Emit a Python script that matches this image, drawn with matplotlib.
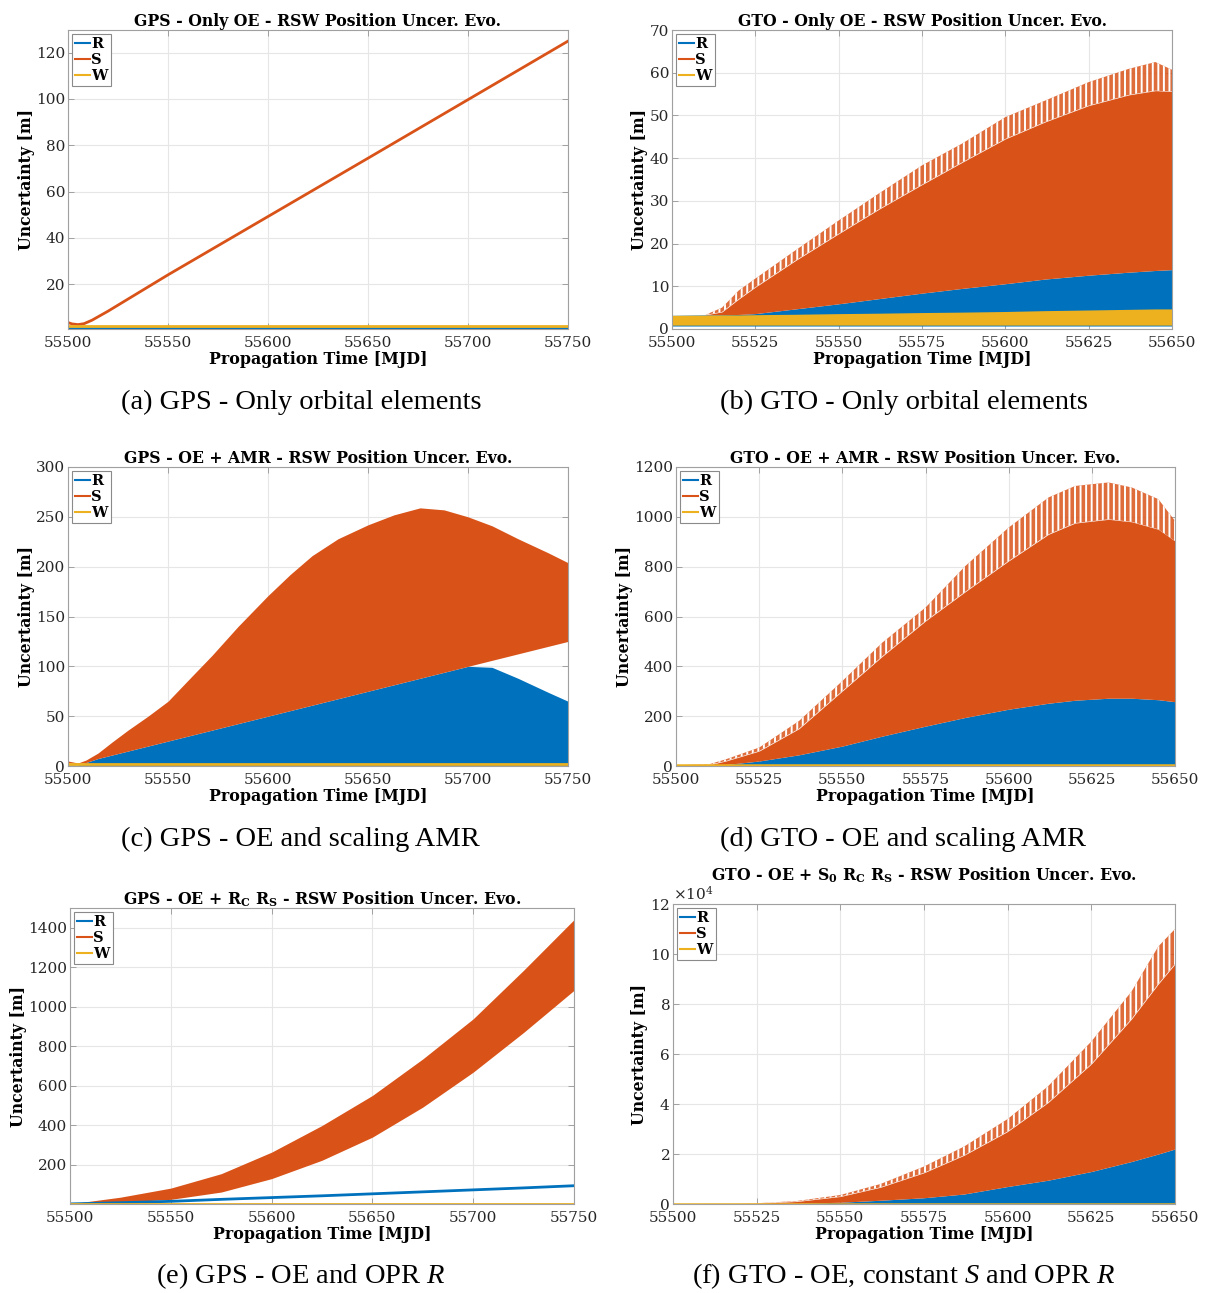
import matplotlib
matplotlib.use("Agg")
from matplotlib import pyplot as plt
from matplotlib.lines import Line2D
from matplotlib.ticker import ScalarFormatter

plt.rcParams['font.family'] = ['DejaVu Serif']
plt.rcParams['mathtext.fontset'] = 'custom'
plt.rcParams['mathtext.it'] = 'Liberation Serif:italic'
plt.rcParams['mathtext.default'] = 'regular'
plt.rcParams['hatch.linewidth'] = 1.4

R_C = '#0072BD'
S_C = '#D95319'
W_C = '#EDB120'

# (a) GPS - only OE
a_days = [55500, 55502, 55505, 55508, 55512, 55520, 55550, 55600, 55650, 55700, 55750]
a_s = [3.4, 2.8, 2.5, 2.9, 4.4, 8.3, 24.0, 49.2, 74.4, 99.7, 125.0]
a_r = [1.0] * len(a_days)
a_w = [2.1] * len(a_days)

# (b) GTO - only OE
b_days = [55500, 55510, 55515, 55520, 55525, 55537, 55550, 55562, 55575, 55587, 55600, 55612, 55625, 55637, 55645, 55650]
b_s_peak = [3.2, 3.3, 5.0, 9.0, 11.8, 18.4, 25.4, 31.7, 38.3, 43.4, 49.6, 53.5, 57.8, 60.9, 62.5, 60.7]
b_s_base = [3.2, 3.3, 4.0, 7.0, 9.8, 16.0, 22.3, 28.0, 33.8, 39.0, 44.5, 48.5, 52.3, 54.8, 55.8, 55.6]
b_r_top = [3.2, 3.3, 3.35, 3.4, 3.6, 4.7, 5.9, 7.1, 8.4, 9.5, 10.6, 11.7, 12.6, 13.3, 13.7, 13.9]
b_r_bot = [0.7] * len(b_days)
b_w_top = [3.2, 3.25, 3.3, 3.3, 3.35, 3.45, 3.6, 3.7, 3.85, 3.95, 4.1, 4.3, 4.45, 4.6, 4.7, 4.7]
b_w_bot = [0.9] * len(b_days)

# (c) GPS - OE + AMR
c_days = [55500, 55505, 55509, 55515, 55522, 55530, 55540, 55550, 55560, 55572, 55585, 55600,
          55611, 55622, 55635, 55650, 55663, 55676, 55688, 55700, 55712, 55725, 55740, 55750]
c_s_top = [5, 3, 6, 13, 24, 36, 50, 65, 86, 111, 140, 171, 192, 211, 228, 242, 252, 259, 257,
           250, 241, 228, 214, 204]
c_s_bot = [3.5, 2, 3.5, 7.5, 11, 15, 20, 25, 30, 36, 42.5, 50, 55.5, 61, 67.5, 75, 81.5, 88,
           94, 100, 106, 112.5, 120, 125]
c_r_top = [1, 1, 3.5, 7.5, 11, 15, 20, 25, 30, 36, 42.5, 50, 55.5, 61, 67.5, 75, 81.5, 88,
           94, 100, 99, 88, 74, 65]
c_w = [2.5] * len(c_days)

# (d) GTO - OE + AMR
d_days = [55500, 55510, 55515, 55525, 55537, 55550, 55562, 55575, 55587, 55600, 55612, 55620, 55630, 55637, 55645, 55650]
d_s_peak = [3, 7, 27, 74, 181, 341, 495, 636, 803, 957, 1078, 1124, 1138, 1118, 1071, 984]
d_s_base = [3, 5, 20, 60, 150, 301, 440, 582, 700, 823, 930, 975, 990, 980, 950, 903]
d_r_top = [2, 3, 6, 20, 45, 80, 120, 160, 195, 228, 252, 264, 272, 272, 266, 258]
d_w = [5] * len(d_days)

# (e) GPS - OE + OPR R
e_days = [55500, 55525, 55550, 55575, 55600, 55625, 55650, 55675, 55700, 55725, 55750]
e_s_top = [2, 36, 82, 155, 264, 399, 551, 736, 939, 1185, 1441]
e_s_bot = [2, 11, 25, 62, 130, 223, 340, 492, 669, 870, 1083]
e_r = [2, 8, 15, 25, 34, 43, 53, 63, 73, 83, 94]
e_w = [2] * len(e_days)

# (f) GTO - OE, constant S + OPR R  [m]
f_days = [55500, 55525, 55537, 55550, 55562, 55575, 55587, 55600, 55612, 55625, 55637, 55645, 55650]
f_s_peak = [30, 300, 1200, 3600, 8000, 15000, 23000, 34000, 47000, 65000, 85000, 103000, 110000]
f_s_base = [30, 250, 1000, 3000, 6700, 12500, 19500, 29000, 40500, 56000, 74000, 88000, 96000]
f_r_top = [20, 100, 300, 700, 1500, 2500, 4000, 7000, 9500, 13000, 17000, 20000, 22000]
f_w = [150] * len(f_days)

titles = [
    'GPS - Only OE - RSW Position Uncer. Evo.',
    'GTO - Only OE - RSW Position Uncer. Evo.',
    'GPS - OE + AMR - RSW Position Uncer. Evo.',
    'GTO - OE + AMR - RSW Position Uncer. Evo.',
    'GPS - OE + R$_C$ R$_S$ - RSW Position Uncer. Evo.',
    'GTO - OE + S$_0$ R$_C$ R$_S$ - RSW Position Uncer. Evo.',
]
captions = [
    '(a) GPS - Only orbital elements',
    '(b) GTO - Only orbital elements',
    '(c) GPS - OE and scaling AMR',
    '(d) GTO - OE and scaling AMR',
    '(e) GPS - OE and OPR $\\mathit{R}$',
    '(f) GTO - OE, constant $\\mathit{S}$ and OPR $\\mathit{R}$',
]

W, H = 1209, 1293
fig = plt.figure(figsize=(W / 100, H / 100), dpi=100)


def rect(x0, y0, x1, y1):
    return [x0 / W, 1 - y1 / H, (x1 - x0) / W, (y1 - y0) / H]


boxes = [(68, 30, 568, 329), (672, 30, 1172, 329),
         (68, 467, 568, 766), (676, 467, 1175, 766),
         (70, 908, 574, 1204), (673, 904, 1175, 1204)]
cap_pos = [(301, 402), (904, 402), (300, 839), (903, 839), (301, 1276), (904, 1276)]

axes = [fig.add_axes(rect(*b)) for b in boxes]


def style(ax, title, xticks, yticks, xlim, ylim):
    ax.set_xlim(xlim)
    ax.set_ylim(ylim)
    ax.set_xticks(xticks)
    ax.set_yticks(yticks)
    ax.grid(True, color='#e6e6e6', lw=0.8)
    ax.set_axisbelow(True)
    for sp in ax.spines.values():
        sp.set_color('#a0a0a0')
        sp.set_linewidth(0.8)
    ax.tick_params(direction='in', length=4, width=0.7, color='#a0a0a0',
                   labelsize=11, labelcolor='#262626', top=True, right=True, pad=2)
    ax.tick_params(axis='x', pad=5)
    ax.set_title(title, fontsize=11.3, fontweight='bold', pad=3)
    ax.set_xlabel('Propagation Time [MJD]', fontsize=11.4, fontweight='bold', labelpad=0.5)
    ax.set_ylabel('Uncertainty [m]', fontsize=11.3, fontweight='bold', labelpad=1)
    handles = [Line2D([], [], color=c, lw=1.5) for c in (R_C, S_C, W_C)]
    leg = ax.legend(handles, ['R', 'S', 'W'], loc='upper left', fancybox=False,
                    edgecolor='#8a8a8a', framealpha=1, handlelength=1.0,
                    handletextpad=0.1, borderpad=0.2, labelspacing=0.12,
                    borderaxespad=0.3, prop={'weight': 'bold', 'size': 10.5})
    leg.get_frame().set_linewidth(0.8)


def teeth(ax, days, base, peak):
    # spiky upper edge of the S oscillation
    ax.fill_between(days, base, peak, facecolor=S_C, alpha=0.85, lw=0)
    ax.fill_between(days, base, peak, facecolor='none', edgecolor='white',
                    hatch='|||', lw=0)


gps_x = [55500, 55550, 55600, 55650, 55700, 55750]
gto_x = [55500, 55525, 55550, 55575, 55600, 55625, 55650]

# (a)
ax = axes[0]
ax.plot(a_days, a_r, color=R_C, lw=2)
ax.plot(a_days, a_s, color=S_C, lw=2)
ax.plot(a_days, a_w, color=W_C, lw=2)
style(ax, titles[0], gps_x, [20, 40, 60, 80, 100, 120], (55500, 55750), (0.6, 129.8))

# (b)
ax = axes[1]
ax.fill_between(b_days, b_r_bot, b_r_top, color=R_C, lw=0)
ax.fill_between(b_days, b_r_top, b_s_base, color=S_C, lw=0)
teeth(ax, b_days, b_s_base, b_s_peak)
ax.fill_between(b_days, b_w_bot, b_w_top, color=W_C, lw=0)
style(ax, titles[1], gto_x, list(range(0, 80, 10)), (55500, 55650), (0, 70))

# (c)
ax = axes[2]
ax.fill_between(c_days, 0, c_r_top, color=R_C, lw=0)
ax.fill_between(c_days, c_s_bot, c_s_top, color=S_C, lw=0)
ax.plot(c_days, c_w, color=W_C, lw=2)
style(ax, titles[2], gps_x, list(range(0, 350, 50)), (55500, 55750), (0, 300))

# (d)
ax = axes[3]
ax.fill_between(d_days, 0, d_r_top, color=R_C, lw=0)
ax.fill_between(d_days, d_r_top, d_s_base, color=S_C, lw=0)
teeth(ax, d_days, d_s_base, d_s_peak)
ax.plot(d_days, d_w, color=W_C, lw=1.8)
style(ax, titles[3], gto_x, list(range(0, 1400, 200)), (55500, 55650), (0, 1200))

# (e)
ax = axes[4]
ax.fill_between(e_days, e_s_bot, e_s_top, color=S_C, lw=0)
ax.plot(e_days, e_r, color=R_C, lw=2)
ax.plot(e_days, e_w, color=W_C, lw=2)
style(ax, titles[4], gps_x, list(range(200, 1600, 200)), (55500, 55750), (1.5, 1500))

# (f)
ax = axes[5]
ax.fill_between(f_days, 0, f_r_top, color=R_C, lw=0)
ax.fill_between(f_days, f_r_top, f_s_base, color=S_C, lw=0)
teeth(ax, f_days, f_s_base, f_s_peak)
ax.plot(f_days, f_w, color=W_C, lw=1.8)
style(ax, titles[5], gto_x, list(range(0, 140000, 20000)), (55500, 55650), (0, 120000))
fmt = ScalarFormatter(useMathText=True)
fmt.set_powerlimits((4, 4))
ax.yaxis.set_major_formatter(fmt)
ax.yaxis.get_offset_text().set_fontsize(11)

for (cx, cy), cap in zip(cap_pos, captions):
    fig.text(cx / W, 1 - cy / H, cap, ha='center', va='center',
             fontsize=20.5, family='Liberation Serif')

plt.savefig("out.png", dpi=100)
